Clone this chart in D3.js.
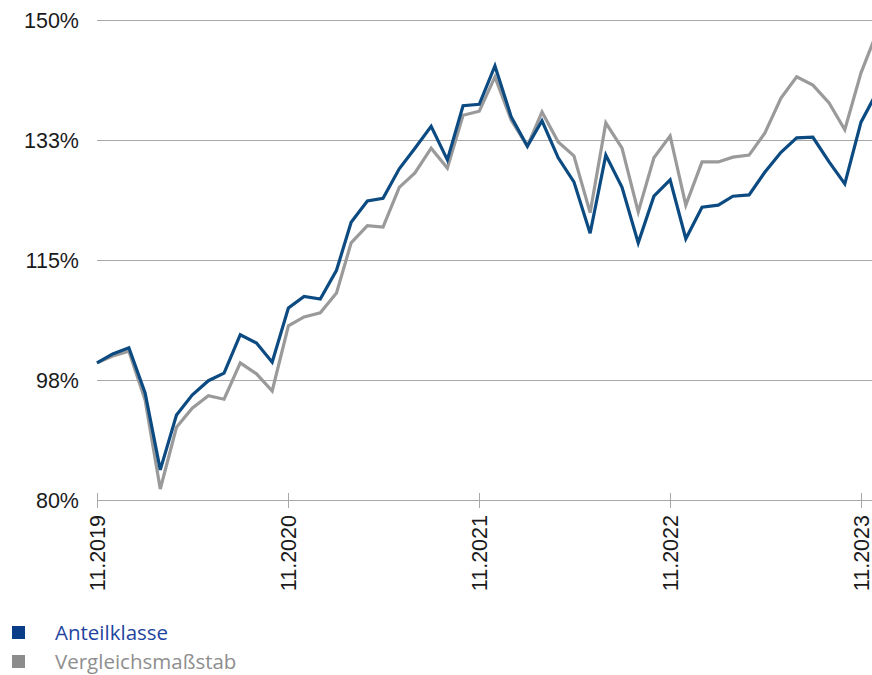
<!DOCTYPE html>
<html>
<head>
<meta charset="utf-8">
<script src="https://cdn.jsdelivr.net/npm/d3@7"></script>
<style>
  body { margin: 0; background: #fff; }
  svg { display: block; }
</style>
</head>
<body>
<svg id="chart"></svg>
<script>
// monthly values, starting 11.2019
const startMonth = [2019, 10];
const anteilklasse = [
  100.0, 101.3, 102.2, 95.6, 84.4, 92.4, 95.3, 97.4, 98.5, 104.1, 102.9, 100.1,
  108.0, 109.7, 109.3, 113.5, 120.5, 123.6, 124.0, 128.3, 131.3, 134.5, 129.6, 137.5,
  137.7, 143.3, 135.9, 131.6, 135.3, 129.9, 126.4, 118.9, 130.3, 125.6, 117.5, 124.3,
  126.7, 118.1, 122.7, 123.0, 124.3, 124.5, 127.8, 130.7, 132.8, 132.9, 129.3, 126.1,
  135.1, 139.4
];
const vergleich = [
  100.0, 101.0, 101.7, 94.6, 81.6, 90.6, 93.4, 95.2, 94.7, 100.0, 98.4, 95.9,
  105.4, 106.7, 107.3, 110.2, 117.5, 120.0, 119.8, 125.6, 127.7, 131.3, 128.4, 136.1,
  136.7, 141.7, 135.4, 131.6, 136.6, 132.2, 130.2, 121.9, 135.0, 131.3, 122.0, 129.9,
  133.1, 123.0, 129.3, 129.3, 130.0, 130.3, 133.5, 138.6, 141.7, 140.5, 137.9, 134.0,
  142.3, 148.1
];
const yTicks = [80, 97.5, 115, 132.5, 150];
const yTickLabels = ["80%", "98%", "115%", "133%", "150%"];
const xTickYears = [2019, 2020, 2021, 2022, 2023];
const seriesNames = ["Anteilklasse", "Vergleichsmaßstab"];

const width = 872, height = 675;
const blue = "#0c4a82", gray = "#9a9a9a", gridColor = "#a8a8a8";

const svg = d3.select("#chart")
    .attr("width", width)
    .attr("height", height)
    .style("font-family", "Arial, 'Liberation Sans', sans-serif");

const dates = anteilklasse.map((d, i) => new Date(startMonth[0], startMonth[1] + i, 1));

const x = d3.scaleTime()
    .domain([new Date(2019, 10, 1), new Date(2023, 10, 1)])
    .range([97, 861]);

const y = d3.scaleLinear()
    .domain([80, 150])
    .range([500, 20]);

// horizontal grid + y labels
const yAxis = svg.append("g");
yAxis.selectAll("line")
  .data(yTicks)
  .join("line")
    .attr("x1", 97)
    .attr("x2", width)
    .attr("y1", d => y(d) + 0.5)
    .attr("y2", d => y(d) + 0.5)
    .attr("stroke", gridColor)
    .attr("stroke-width", 1);
yAxis.selectAll("text")
  .data(yTicks)
  .join("text")
    .attr("x", 79)
    .attr("y", d => y(d))
    .attr("dy", "0.36em")
    .attr("text-anchor", "end")
    .attr("font-size", 21.5)
    .attr("fill", "#1a1a1a")
    .text((d, i) => yTickLabels[i]);

// x ticks and rotated labels
const xAxis = svg.append("g");
const xTicks = xTickYears.map(yr => new Date(yr, 10, 1));
xAxis.selectAll("line")
  .data(xTicks)
  .join("line")
    .attr("x1", d => Math.round(x(d)) + 0.5)
    .attr("x2", d => Math.round(x(d)) + 0.5)
    .attr("y1", 493)
    .attr("y2", 508)
    .attr("stroke", gridColor);
xAxis.selectAll("text")
  .data(xTicks)
  .join("text")
    .attr("transform", d => `translate(${x(d) + 8},515) rotate(-90)`)
    .attr("text-anchor", "end")
    .attr("font-size", 21.5)
    .attr("fill", "#1a1a1a")
    .text(d => d3.timeFormat("%m.%Y")(d));

// lines
const line = d3.line()
    .x((d, i) => x(dates[i]))
    .y(d => y(d));

svg.append("path")
    .datum(vergleich)
    .attr("fill", "none")
    .attr("stroke", gray)
    .attr("stroke-width", 3.2)
    .attr("stroke-linejoin", "miter")
    .attr("d", line);

svg.append("path")
    .datum(anteilklasse)
    .attr("fill", "none")
    .attr("stroke", blue)
    .attr("stroke-width", 3.2)
    .attr("stroke-linejoin", "miter")
    .attr("d", line);

// legend
const legend = svg.append("g")
  .selectAll("g")
  .data(seriesNames)
  .join("g")
    .attr("transform", (d, i) => `translate(12,${626 + i * 29})`);
legend.append("rect")
    .attr("width", 13)
    .attr("height", 13)
    .attr("fill", (d, i) => i === 0 ? "#0a3c88" : "#8c8c8c");
legend.append("text")
    .attr("x", 43)
    .attr("y", 7)
    .attr("dy", "0.36em")
    .attr("font-family", "'Open Sans', sans-serif")
    .attr("font-size", 20.5)
    .attr("fill", (d, i) => i === 0 ? "#1f45a0" : "#8e8e8e")
    .text(d => d);
</script>
</body>
</html>
